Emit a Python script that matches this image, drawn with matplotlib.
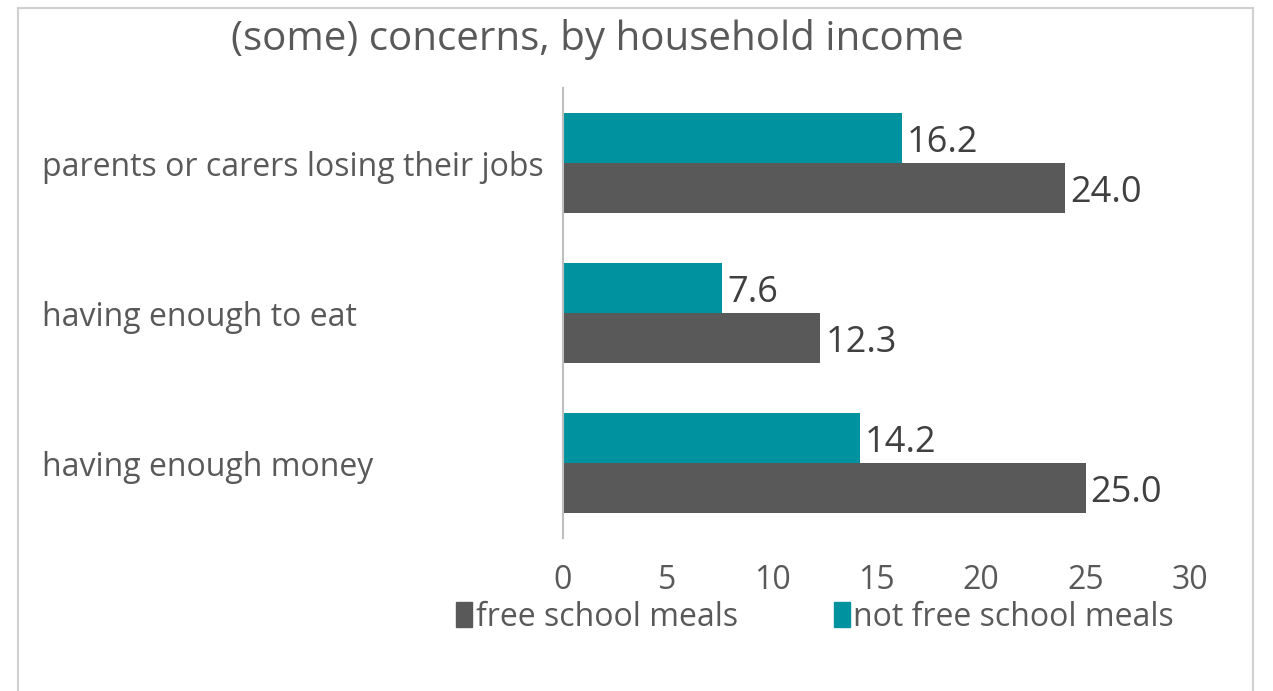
import matplotlib.pyplot as plt
from matplotlib.lines import Line2D
from matplotlib.patches import Patch

plt.rcParams['font.family'] = ['Open Sans', 'DejaVu Sans']

# Share of children with (some) concerns, by household income
categories = ['parents or carers losing their jobs', 'having enough to eat', 'having enough money']
free_meals = [24.0, 12.3, 25.0]
not_free_meals = [16.2, 7.6, 14.2]
ticks = [0, 5, 10, 15, 20, 25, 30]

teal = '#00939F'
grey = '#595959'
text_col = '#595959'
fs = 23

W, H = 1273, 691
fig = plt.figure(figsize=(W / 100, H / 100), dpi=100)
ax = fig.add_axes([563 / W, 1 - 538 / H, 627 / W, 450 / H])

pos = list(range(len(categories)))
bh = 1 / 3
ax.barh([p - bh / 2 for p in pos], not_free_meals, height=bh, color=teal)
ax.barh([p + bh / 2 for p in pos], free_meals, height=bh, color=grey)

# value labels just right of each bar
for p, v in zip(pos, not_free_meals):
    ax.text(v + 0.25, p - bh / 2 + 0.035, f'{v:.1f}', va='center', ha='left', fontsize=26, color='#404040')
for p, v in zip(pos, free_meals):
    ax.text(v + 0.25, p + bh / 2 + 0.035, f'{v:.1f}', va='center', ha='left', fontsize=26, color='#404040')

ax.set_xlim(0, 30)
ax.set_ylim(2.5, -0.5)
ax.set_xticks(ticks)
ax.set_xticklabels([str(t) for t in ticks])
ax.set_yticks([])
ax.tick_params(axis='x', length=0, pad=19, labelsize=fs, labelcolor=text_col)
for s in ['top', 'right', 'bottom']:
    ax.spines[s].set_visible(False)
ax.spines['left'].set_color('#bfbfbf')
ax.spines['left'].set_linewidth(1.5)

# category labels, left aligned
for p, c in zip(pos, categories):
    y = ax.transData.transform((0, p))[1]
    fig.text(42 / W, (y - 5) / H, c, ha='left', va='center', fontsize=fs, color=text_col,
             transform=fig.transFigure)

fig.text(597 / W, 1 - 39 / H, '(some) concerns, by household income', ha='center', va='center',
         fontsize=29, color=text_col)

handles = [Patch(color=grey), Patch(color=teal)]
fig.legend(handles, ['free school meals', 'not free school meals'], loc='center',
           bbox_to_anchor=(815 / W, 1 - 617 / H), ncol=2, frameon=False, fontsize=fs,
           handlelength=0.5, handleheight=0.8, handletextpad=0.12, columnspacing=3.0,
           labelcolor=text_col)

# chart border
bc = '#d0d0d0'
fig.add_artist(Line2D([18 / W, 1253 / W], [1 - 8 / H, 1 - 8 / H], color=bc, lw=1.5))
fig.add_artist(Line2D([18 / W, 18 / W], [0, 1 - 8 / H], color=bc, lw=1.5))
fig.add_artist(Line2D([1253 / W, 1253 / W], [0, 1 - 8 / H], color=bc, lw=1.5))

fig.savefig('out.png', dpi=100)
